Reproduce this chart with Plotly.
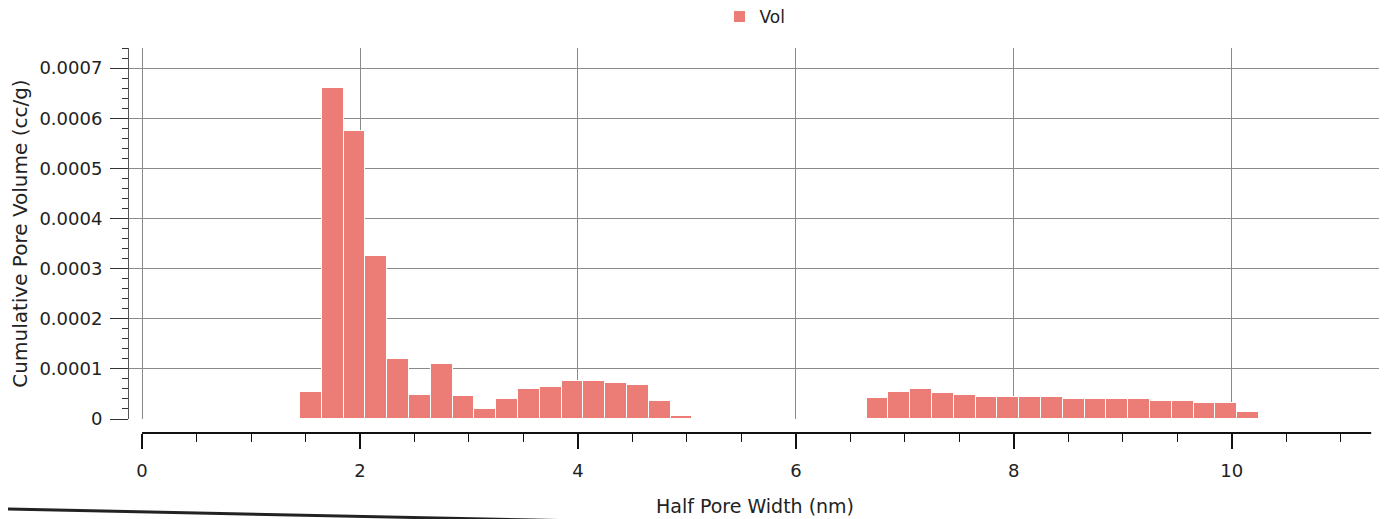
import plotly.graph_objects as go

# Data
pore_width_nm = [1.55, 1.75, 1.95, 2.15, 2.35, 2.55, 2.75, 2.95, 3.15, 3.35, 3.55, 3.75,
                 3.95, 4.15, 4.35, 4.55, 4.75, 4.95,
                 6.75, 6.95, 7.15, 7.35, 7.55, 7.75, 7.95, 8.15, 8.35, 8.55, 8.75, 8.95,
                 9.15, 9.35, 9.55, 9.75, 9.95, 10.15]
vol = [0.000053, 0.00066, 0.000575, 0.000325, 0.00012, 0.000047, 0.00011, 0.000046,
       0.00002, 0.000039, 0.000059, 0.000063, 0.000075, 0.000075, 0.000071, 0.000067,
       0.000035, 0.000005,
       0.000041, 0.000053, 0.000059, 0.000051, 0.000048, 0.000044, 0.000044, 0.000043,
       0.000044, 0.00004, 0.00004, 0.00004, 0.00004, 0.000036, 0.000035, 0.000031,
       0.000031, 0.000013]
bin_width = 0.2

y_tickvals = [0, 0.0001, 0.0002, 0.0003, 0.0004, 0.0005, 0.0006, 0.0007]
y_ticktext = ["0", "0.0001", "0.0002", "0.0003", "0.0004", "0.0005", "0.0006", "0.0007"]
x_tickvals = [0, 2, 4, 6, 8, 10]
x_ticktext = ["0", "2", "4", "6", "8", "10"]

FONT = "DejaVu Sans"
BAR_COLOR = "#EC7C76"
GRID = "#8a8a8a"

# page coordinates (the HTML body adds an 8px offset at top/left)
OFF = 8
PAGE_W, PAGE_H = 1387, 519
W, H = PAGE_W - OFF, PAGE_H - OFF
left_px, right_px, top_px, bottom_px = 129, 1381, 48, 433   # plot area in page px
ml, mr, mt, mb = left_px - OFF, PAGE_W - right_px, top_px - OFF, PAGE_H - bottom_px
plot_w = W - ml - mr
plot_h = H - mt - mb
y0_px = 419  # page row of y = 0
y_dom0 = (bottom_px - y0_px) / plot_h

x_min, x_max = -0.12, 11.37
x_axis_end = 11.28


def page_x(px):
    return (px - left_px) / plot_w


def page_y(py):
    return (bottom_px - py) / plot_h


fig = go.Figure()
fig.add_trace(go.Bar(
    x=pore_width_nm, y=vol, width=bin_width, name="Vol",
    marker=dict(color=BAR_COLOR, line=dict(color="white", width=1)),
    showlegend=True,
))

fig.update_layout(
    width=W, height=H,
    margin=dict(l=ml, r=mr, t=mt, b=mb, autoexpand=False),
    paper_bgcolor="white", plot_bgcolor="white",
    font=dict(family=FONT, size=17, color="#222"),
    bargap=0,
    showlegend=True,
    legend=dict(orientation="h", x=0.500, y=page_y(17), xanchor="center",
                yanchor="middle", font=dict(size=17, family=FONT), bgcolor="rgba(0,0,0,0)",
                itemwidth=30),
    xaxis=dict(
        range=[x_min, x_max], anchor="free", position=0, automargin=False,
        tickvals=x_tickvals, ticktext=x_ticktext,
        ticks="outside", ticklen=15, tickwidth=1.5, tickcolor="#111",
        minor=dict(dtick=0.5, tick0=0, ticks="outside", ticklen=8, tickwidth=1.2,
                   tickcolor="#111", showgrid=False),
        showgrid=True, gridcolor=GRID, gridwidth=1,
        showline=False, zeroline=False, ticklabelstandoff=6,
        tickfont=dict(size=18, family=FONT, color="#222"),
        title=dict(text="Half Pore Width (nm)", font=dict(size=19, family=FONT), standoff=20),
    ),
    yaxis=dict(
        domain=[y_dom0, 1], range=[0, 0.00074], automargin=False,
        tickvals=y_tickvals, ticktext=y_ticktext,
        ticks="outside", ticklen=18, tickwidth=1, tickcolor="#333",
        minor=dict(dtick=0.00002, tick0=0, ticks="outside", ticklen=6, tickwidth=1,
                   tickcolor="#333", showgrid=False),
        showgrid=True, gridcolor=GRID, gridwidth=1,
        showline=True, linecolor="#555", linewidth=1, zeroline=False,
        ticklabelstandoff=4,
        tickfont=dict(size=18, family=FONT, color="#222"),
        title=dict(text="Cumulative Pore Volume (cc/g)", font=dict(size=20, family=FONT),
                   standoff=8),
    ),
)

# separate x-axis base line starting at x = 0 (as drawn in the original)
fig.add_shape(type="line", xref="x", yref="paper", x0=0, x1=x_axis_end, y0=0, y1=0,
              line=dict(color="#111", width=2))

# dark page-edge stroke along the bottom of the scanned original
fig.add_shape(type="line", xref="paper", yref="paper",
              x0=page_x(OFF), x1=page_x(870), y0=page_y(509), y1=page_y(527),
              line=dict(color="#222", width=3))

fig.write_html("out.html")
